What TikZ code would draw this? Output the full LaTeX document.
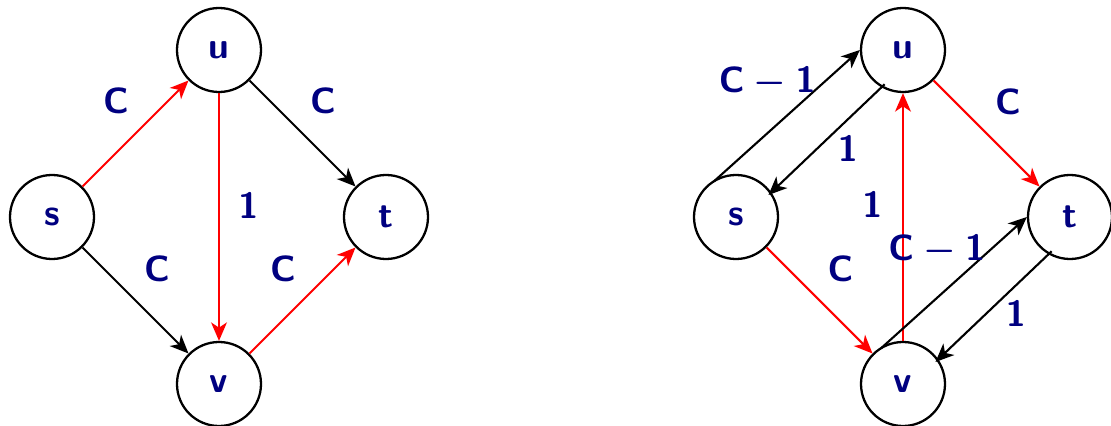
\documentclass[tikz,border=0pt]{standalone}
\usepackage{amsmath}
\usetikzlibrary{arrows.meta, positioning}
\definecolor{lblblue}{HTML}{000080}

\begin{document}
\begin{tikzpicture}[
    node distance=3.34cm and 3.34cm, on grid,
    vertex/.style={circle, draw, line width=1.3pt, minimum size=1.68cm, inner sep=0pt, text=lblblue, font=\fontsize{21}{25}\selectfont\sffamily\bfseries},
    arc/.style={-{Stealth[length=10.5pt, width=9pt, inset=3pt]}, line width=1.2pt},
    flow/.style={arc, draw=red},
    back/.style={arc, shorten <=-0.09cm},
    lbl/.style={text=lblblue, inner sep=0pt, font=\fontsize{21}{25}\selectfont\boldmath}
]
\useasboundingbox (-1.04,-4.18) rectangle (21.18,4.34);
% network
\node[vertex] (s) {s};
\node[vertex, above right=of s] (u) {u};
\node[vertex, below right=of u] (t) {t};
\node[vertex, below right=of s] (v) {v};
\draw[flow] (s.north east) -- node[lbl, xshift=-0.39cm, yshift=0.65cm] {$\mathsf{C}$} (u.south west);
\draw[arc] (u.south east) -- node[lbl, xshift=0.41cm, yshift=0.65cm] {$\mathsf{C}$} (t.north west);
\draw[flow] (u.south) -- node[lbl, xshift=0.59cm, yshift=0.23cm] {$\mathsf{1}$} (v.north);
\draw[arc] (s.south east) -- node[lbl, xshift=0.43cm, yshift=0.63cm] {$\mathsf{C}$} (v.north west);
\draw[flow] (v.north east) -- node[lbl, xshift=-0.39cm, yshift=0.63cm] {$\mathsf{C}$} (t.south west);
% residual network
\node[vertex, right=13.68cm of s] (rs) {s};
\node[vertex, above right=of rs] (ru) {u};
\node[vertex, below right=of ru] (rt) {t};
\node[vertex, below right=of rs] (rv) {v};
\draw[back] (rs.115) -- node[lbl, xshift=-0.43cm, yshift=0.63cm] {$\mathsf{C-1}$} (ru.west);
\draw[back, shorten >=-0.08cm] (ru.240) -- node[lbl, xshift=0.43cm, yshift=-0.18cm] {$\mathsf{1}$} (rs.35);
\draw[flow] (rv.north) -- node[lbl, xshift=-0.61cm, yshift=0.24cm] {$\mathsf{1}$} (ru.south);
\draw[flow] (ru.south east) -- node[lbl, xshift=0.43cm, yshift=0.64cm] {$\mathsf{C}$} (rt.north west);
\draw[flow] (rs.south east) -- node[lbl, xshift=0.42cm, yshift=0.64cm] {$\mathsf{C}$} (rv.north west);
\draw[back] (rv.115) -- node[lbl, xshift=-0.38cm, yshift=0.62cm] {$\mathsf{C-1}$} (rt.west);
\draw[back, shorten >=-0.08cm] (rt.240) -- node[lbl, xshift=0.45cm, yshift=-0.14cm] {$\mathsf{1}$} (rv.35);
\end{tikzpicture}
\end{document}
